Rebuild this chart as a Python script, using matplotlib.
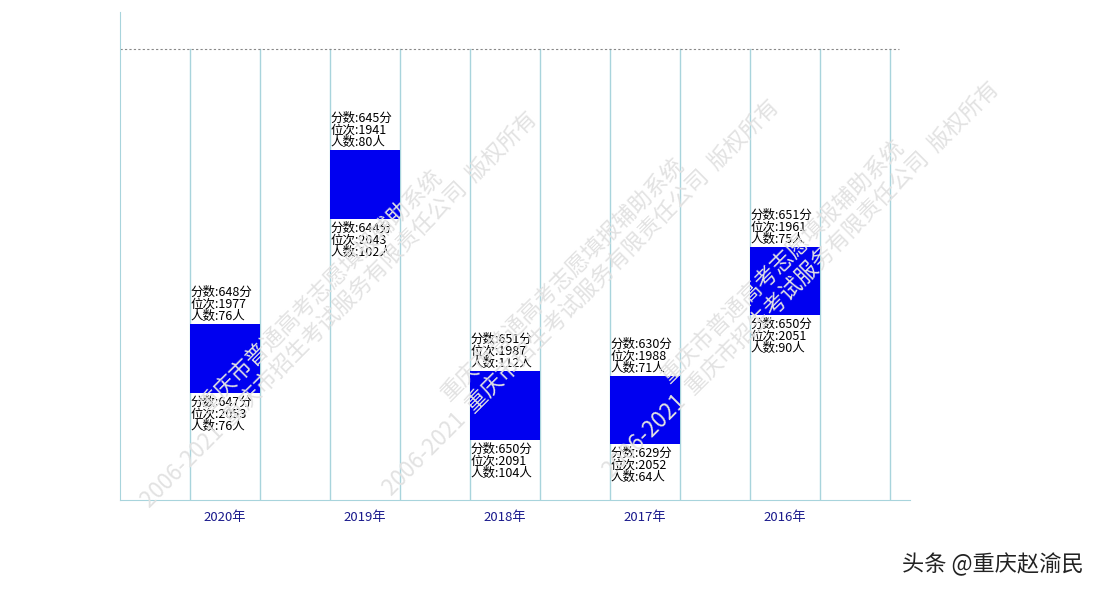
import matplotlib.pyplot as plt

plt.rcParams['font.family'] = ['Noto Sans CJK SC', 'DejaVu Sans']

years = ['2020年', '2019年', '2018年', '2017年', '2016年']
bar_top = [39.0, 77.6, 28.6, 27.5, 56.1]
bar_bottom = [23.7, 62.3, 13.3, 12.4, 41.0]
top_labels = ['分数:648分\n位次:1977\n人数:76人', '分数:645分\n位次:1941\n人数:80人',
              '分数:651分\n位次:1987\n人数:112人', '分数:630分\n位次:1988\n人数:71人',
              '分数:651分\n位次:1961\n人数:75人']
bottom_labels = ['分数:647分\n位次:2053\n人数:76人', '分数:644分\n位次:2043\n人数:102人',
                 '分数:650分\n位次:2091\n人数:104人', '分数:629分\n位次:2052\n人数:64人',
                 '分数:650分\n位次:2051\n人数:90人']
watermark = '重庆市普通高考志愿填报辅助系统\n2006-2021  重庆市招生考试服务有限责任公司  版权所有'

fig = plt.figure(figsize=(11, 6), dpi=100)
ax = fig.add_axes([0.109, 0.167, 0.718, 0.813])
ax.set_xlim(-0.75, 4.893)
ax.set_ylim(0, 108.2)

for k in range(11):
    ax.plot([-0.25 + 0.5 * k] * 2, [0, 100], color='#a8d4dc', lw=1, zorder=0)
ax.plot([-0.75, 4.82], [100, 100], color='#888888', lw=0.8, ls=(0, (2, 2)))

x = list(range(len(years)))
heights = [t - b for t, b in zip(bar_top, bar_bottom)]
ax.bar(x, heights, bottom=bar_bottom, width=0.5, color='#0000f0', zorder=2)

for i in x:
    ax.text(i - 0.245, bar_top[i] + 0.2, top_labels[i], fontsize=9, va='bottom', ha='left',
            linespacing=0.9, zorder=3)
    ax.text(i - 0.245, bar_bottom[i] - 0.6, bottom_labels[i], fontsize=9, va='top', ha='left',
            linespacing=0.9, zorder=3)

ax.set_xticks(x)
ax.set_xticklabels(years, color='#1a1a8c', fontsize=9.5)
ax.tick_params(axis='x', length=0, pad=8)
ax.set_yticks([])
for s in ['top', 'right']:
    ax.spines[s].set_visible(False)
ax.spines['left'].set_color('#a8d4dc')
ax.spines['bottom'].set_color('#a8d4dc')

for cx, cy in [(0.30, 0.50), (0.52, 0.52), (0.72, 0.55)]:
    fig.text(cx, cy, watermark, rotation=45, fontsize=16, color='#e2e2e2',
             ha='center', va='center', zorder=0)

fig.text(0.985, 0.04, '头条 @重庆赵渝民', fontsize=16, ha='right', va='bottom', color='#222222')

fig.savefig('out.png')
